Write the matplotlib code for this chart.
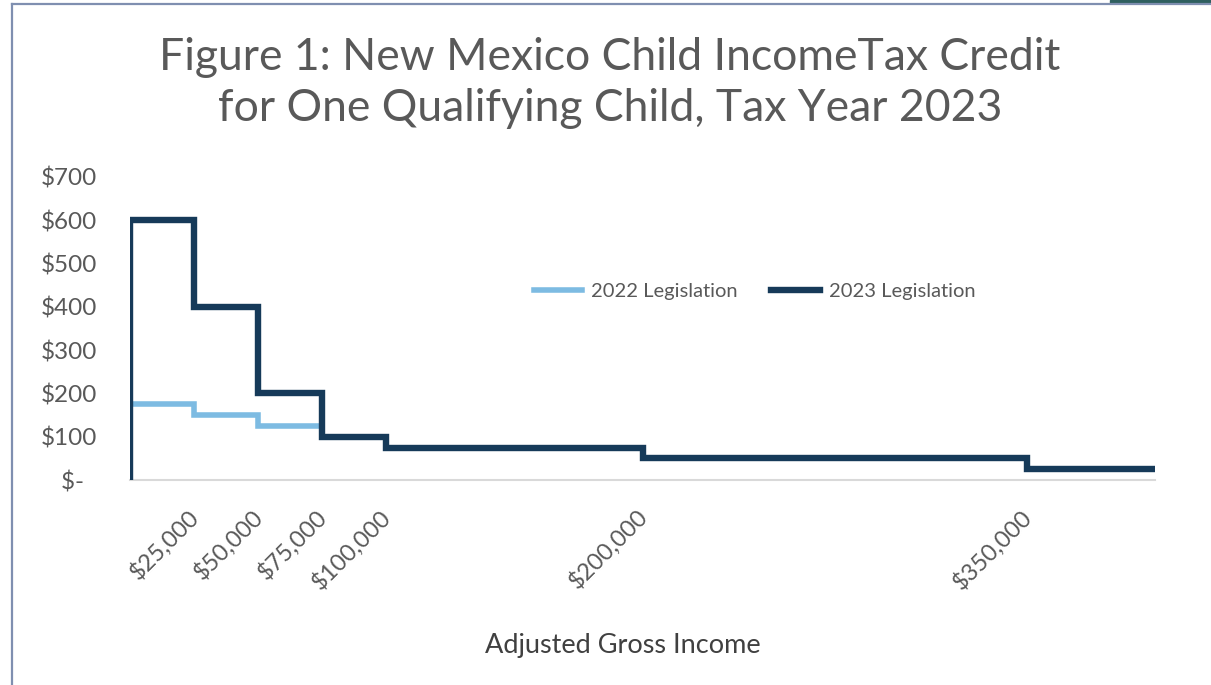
import matplotlib
matplotlib.use('Agg')
from matplotlib import pyplot as plt
from matplotlib.patches import Rectangle
from matplotlib.lines import Line2D

# Data: credit schedule per income bracket (step starts)
income_breaks = [0, 25000, 50000, 75000, 100000, 200000, 350000, 400000]
credit_2022 = [175, 150, 125, 100, 75, 50, 25, 25]
credit_2023 = [600, 400, 200, 100, 75, 50, 25, 25]
tick_values = [25000, 50000, 75000, 100000, 200000, 350000]
tick_labels = ['$25,000', '$50,000', '$75,000', '$100,000', '$200,000', '$350,000']
ytick_values = [0, 100, 200, 300, 400, 500, 600, 700]
ytick_labels = ['$-  ', '$100', '$200', '$300', '$400', '$500', '$600', '$700']

light_blue = '#7dbbe2'
dark_blue = '#163a59'
gray_txt = '#595959'

plt.rcParams['font.family'] = ['Lato', 'DejaVu Sans']

W, H = 1211, 685
fig = plt.figure(figsize=(W / 100, H / 100), dpi=100)
fig.patch.set_facecolor('white')

ax = fig.add_axes([130 / W, 1 - 480 / H, (1155 - 130) / W, (480 - 177) / H])

ax.step(income_breaks, credit_2022, where='post', color=light_blue, lw=4.0,
        solid_joinstyle='miter', label='2022 Legislation', zorder=2)
ax.step([0] + income_breaks, [0] + credit_2023, where='post', color=dark_blue, lw=4.6,
        solid_joinstyle='miter', label='2023 Legislation', zorder=3)

ax.set_xlim(0, 400000)
ax.set_ylim(0, 700)
for s in ['top', 'right', 'left']:
    ax.spines[s].set_visible(False)
ax.spines['bottom'].set_color('#d9d9d9')
ax.spines['bottom'].set_linewidth(1.5)

ax.set_xticks(tick_values)
ax.set_xticklabels(tick_labels, rotation=45, ha='right', va='center_baseline',
                   rotation_mode='anchor', fontsize=17, color=gray_txt)
ax.set_yticks(ytick_values)
ax.set_yticklabels(ytick_labels, fontsize=17.5, color=gray_txt)
ax.tick_params(axis='x', length=0, pad=23)
ax.tick_params(axis='y', length=0, pad=24)

leg = fig.legend(handles=[Line2D([], [], color=light_blue, lw=4.0),
                          Line2D([], [], color=dark_blue, lw=4.6)],
                 labels=['2022 Legislation', '2023 Legislation'],
                 loc='center left', bbox_to_anchor=(524 / W, 1 - 291 / H),
                 ncol=2, frameon=False, fontsize=14.5, handlelength=2.4,
                 handletextpad=0.45, columnspacing=1.65, borderpad=0)
for t in leg.get_texts():
    t.set_color(gray_txt)

fig.text(610 / W, 1 - 83 / H,
         'Figure 1: New Mexico Child IncomeTax Credit\nfor One Qualifying Child, Tax Year 2023',
         ha='center', va='center', fontsize=32, color=gray_txt, linespacing=1.3)

fig.text(623 / W, 1 - 645 / H, 'Adjusted Gross Income', ha='center', va='center',
         fontsize=19.5, color='#404040')

# outer frame
fig.add_artist(Line2D([12 / W, 12 / W], [0, 1 - 4 / H], color='#7f8fb0', lw=1.6))
fig.add_artist(Line2D([12 / W, 1], [1 - 4 / H, 1 - 4 / H], color='#7f8fb0', lw=1.6))
fig.add_artist(Rectangle((1110 / W, 1 - 3 / H), 101 / W, 3 / H, color='#2f5f5f'))

fig.savefig('out.png', dpi=100)
